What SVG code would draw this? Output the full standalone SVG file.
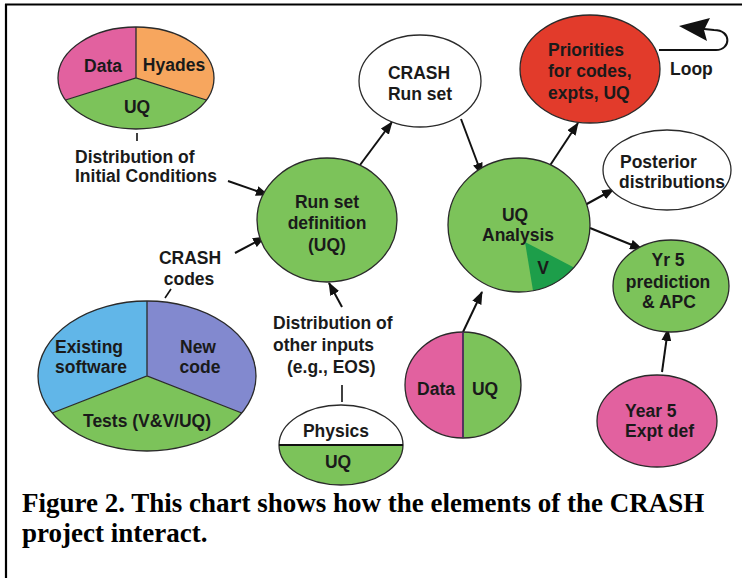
<svg xmlns="http://www.w3.org/2000/svg" width="742" height="578" viewBox="0 0 742 578">
<defs>
<style>
.t{font-family:"Liberation Sans",Arial,Helvetica,sans-serif;font-weight:bold;font-size:17.5px;fill:#1a1a1a}
.m{text-anchor:middle}
.o{fill:none;stroke:#2a2a2a;stroke-width:1.3}
.e{stroke:#2a2a2a;stroke-width:1.3}
.g{fill:#7cc35a}
.pk{fill:#e2619f}
.c{fill:none;stroke:#111;stroke-width:2}
.tick{stroke:#111;stroke-width:1.6;fill:none}
.cap{font-family:"Liberation Serif","Times New Roman",serif;font-weight:bold;font-size:27px;fill:#000}
</style>
<marker id="ah" markerUnits="userSpaceOnUse" markerWidth="13" markerHeight="10" refX="12" refY="5" orient="auto">
<path d="M0,0 L13,5 L0,10 Z" fill="#111"/>
</marker>
</defs>
<rect x="0" y="0" width="742" height="578" fill="#fff"/>
<g id="frame" stroke="#000" stroke-width="2.2" fill="none">
<line x1="5" y1="4.5" x2="742" y2="4.5"/>
<line x1="6" y1="4" x2="6" y2="578"/>
</g>

<g id="connectors">
<line class="c" x1="228" y1="181" x2="268" y2="195" marker-end="url(#ah)"/>
<line class="c" x1="235" y1="253" x2="265" y2="237" marker-end="url(#ah)"/>
<line class="c" x1="342" y1="307" x2="329" y2="283" marker-end="url(#ah)"/>
<line class="c" x1="360" y1="165" x2="392" y2="122" marker-end="url(#ah)"/>
<line class="c" x1="461" y1="119" x2="482" y2="175" marker-end="url(#ah)"/>
<line class="c" x1="463" y1="332" x2="482" y2="292" marker-end="url(#ah)"/>
<line class="c" x1="545" y1="173" x2="578" y2="123" marker-end="url(#ah)"/>
<line class="c" x1="585" y1="205" x2="614" y2="189" marker-end="url(#ah)"/>
<line class="c" x1="590" y1="228" x2="642" y2="249" marker-end="url(#ah)"/>
<line class="c" x1="662" y1="372" x2="668" y2="329" marker-end="url(#ah)"/>
<path class="c" stroke-width="2.6" d="M659,50 L716,50 C731,50 732,30 714,30 L704,29"/>
<path d="M679,26 L710,18 L704,30 L707,41 Z" fill="#111"/>
<line class="tick" x1="137" y1="133" x2="137" y2="141"/>
<line class="tick" x1="171" y1="289" x2="165" y2="298"/>
<line class="tick" x1="342" y1="385" x2="342" y2="402"/>
</g>

<g id="initial-conditions">
<path class="pk" d="M136,78 L136,27 A78,51 0 0 0 65.6,100 Z"/>
<path fill="#f7a65e" d="M136,78 L136,27 A78,51 0 0 1 206.4,100 Z"/>
<path class="g" d="M136,78 L65.6,100 A78,51 0 0 0 206.4,100 Z"/>
<path class="o" d="M136,27 L136,78 M65.6,100 L136,78 L206.4,100"/>
<ellipse class="o" cx="136" cy="78" rx="78" ry="51"/>
<text class="t m" x="103" y="72">Data</text>
<text class="t m" x="174" y="71">Hyades</text>
<text class="t m" x="137" y="113">UQ</text>
<text class="t" x="75" y="163">Distribution of</text>
<text class="t" x="75" y="182">Initial Conditions</text>
</g>

<g id="crash-codes">
<path fill="#61b6e8" d="M147,376 L147,301 A109,75 0 0 0 52.2,413 Z"/>
<path fill="#8289cf" d="M147,376 L147,301 A109,75 0 0 1 241.8,413 Z"/>
<path class="g" d="M147,376 L52.2,413 A109,75 0 0 0 241.8,413 Z"/>
<path class="o" d="M147,301 L147,376 M52.2,413 L147,376 L241.8,413"/>
<ellipse class="o" cx="147" cy="376" rx="109" ry="75"/>
<text class="t m" x="190" y="264">CRASH</text>
<text class="t m" x="189" y="285">codes</text>
<text class="t m" x="89" y="353">Existing</text>
<text class="t m" x="91" y="373">software</text>
<text class="t m" x="198" y="353">New</text>
<text class="t m" x="200" y="373">code</text>
<text class="t m" x="147" y="427">Tests (V&amp;V/UQ)</text>
</g>

<g id="run-set-definition">
<ellipse class="g e" cx="327" cy="220" rx="70" ry="62"/>
<text class="t m" x="327" y="208">Run set</text>
<text class="t m" x="327" y="229">definition</text>
<text class="t m" x="327" y="251">(UQ)</text>
</g>

<g id="crash-run-set">
<ellipse class="e" fill="#fff" cx="420" cy="81" rx="61" ry="46"/>
<text class="t m" x="419" y="79">CRASH</text>
<text class="t m" x="420" y="100">Run set</text>
</g>

<g id="other-inputs">
<text class="t" x="273" y="329">Distribution of</text>
<text class="t" x="273" y="351">other inputs</text>
<text class="t" x="287" y="373">(e.g., EOS)</text>
</g>

<g id="physics">
<ellipse fill="#fff" cx="341" cy="445" rx="62" ry="40"/>
<path class="g" d="M279,445 A62,40 0 0 0 403,445 Z"/>
<ellipse class="o" cx="341" cy="445" rx="62" ry="40"/>
<line x1="279" y1="445" x2="403" y2="445" stroke="#111" stroke-width="2.2"/>
<text class="t m" x="336" y="437">Physics</text>
<text class="t m" x="338" y="468">UQ</text>
</g>

<g id="uq-analysis">
<ellipse class="g" cx="519" cy="225" rx="71" ry="67"/>
<path fill="#1d9e4a" d="M525,242 L533,290.7 A71,67 0 0 0 574,267.4 Z"/>
<ellipse class="o" cx="519" cy="225" rx="71" ry="67"/>
<text class="t m" x="515" y="221">UQ</text>
<text class="t m" x="518" y="241">Analysis</text>
<text class="t m" x="543" y="274">V</text>
</g>

<g id="data-uq">
<path class="pk" d="M463,332 A58,53 0 0 0 463,438 Z"/>
<path class="g" d="M463,332 A58,53 0 0 1 463,438 Z"/>
<ellipse class="o" cx="463" cy="385" rx="58" ry="53"/>
<line x1="463" y1="332" x2="463" y2="438" stroke="#4a2a5a" stroke-width="1.8"/>
<text class="t m" x="436" y="395">Data</text>
<text class="t m" x="485" y="395">UQ</text>
</g>

<g id="priorities">
<ellipse class="e" fill="#e23b2b" cx="590" cy="69" rx="70" ry="54"/>
<text class="t" x="548" y="56">Priorities</text>
<text class="t" x="548" y="77">for codes,</text>
<text class="t" x="548" y="99">expts, UQ</text>
<text class="t" x="670" y="75">Loop</text>
</g>

<g id="posterior">
<ellipse class="e" fill="#fff" cx="667" cy="170" rx="64" ry="40"/>
<text class="t" x="620" y="168">Posterior</text>
<text class="t" x="619" y="188">distributions</text>
</g>

<g id="yr5-prediction">
<ellipse class="g e" cx="671" cy="286" rx="58" ry="46"/>
<text class="t m" x="668" y="266">Yr 5</text>
<text class="t m" x="668" y="288">prediction</text>
<text class="t m" x="669" y="308">&amp; APC</text>
</g>

<g id="year5-expt">
<ellipse class="pk e" cx="657" cy="421" rx="60" ry="46"/>
<text class="t" x="625" y="417">Year 5</text>
<text class="t" x="625" y="437">Expt def</text>
</g>

<g id="caption">
<text class="cap" x="22" y="512">Figure 2. This chart shows how the elements of the CRASH</text>
<text class="cap" x="22" y="542">project interact.</text>
</g>
</svg>
